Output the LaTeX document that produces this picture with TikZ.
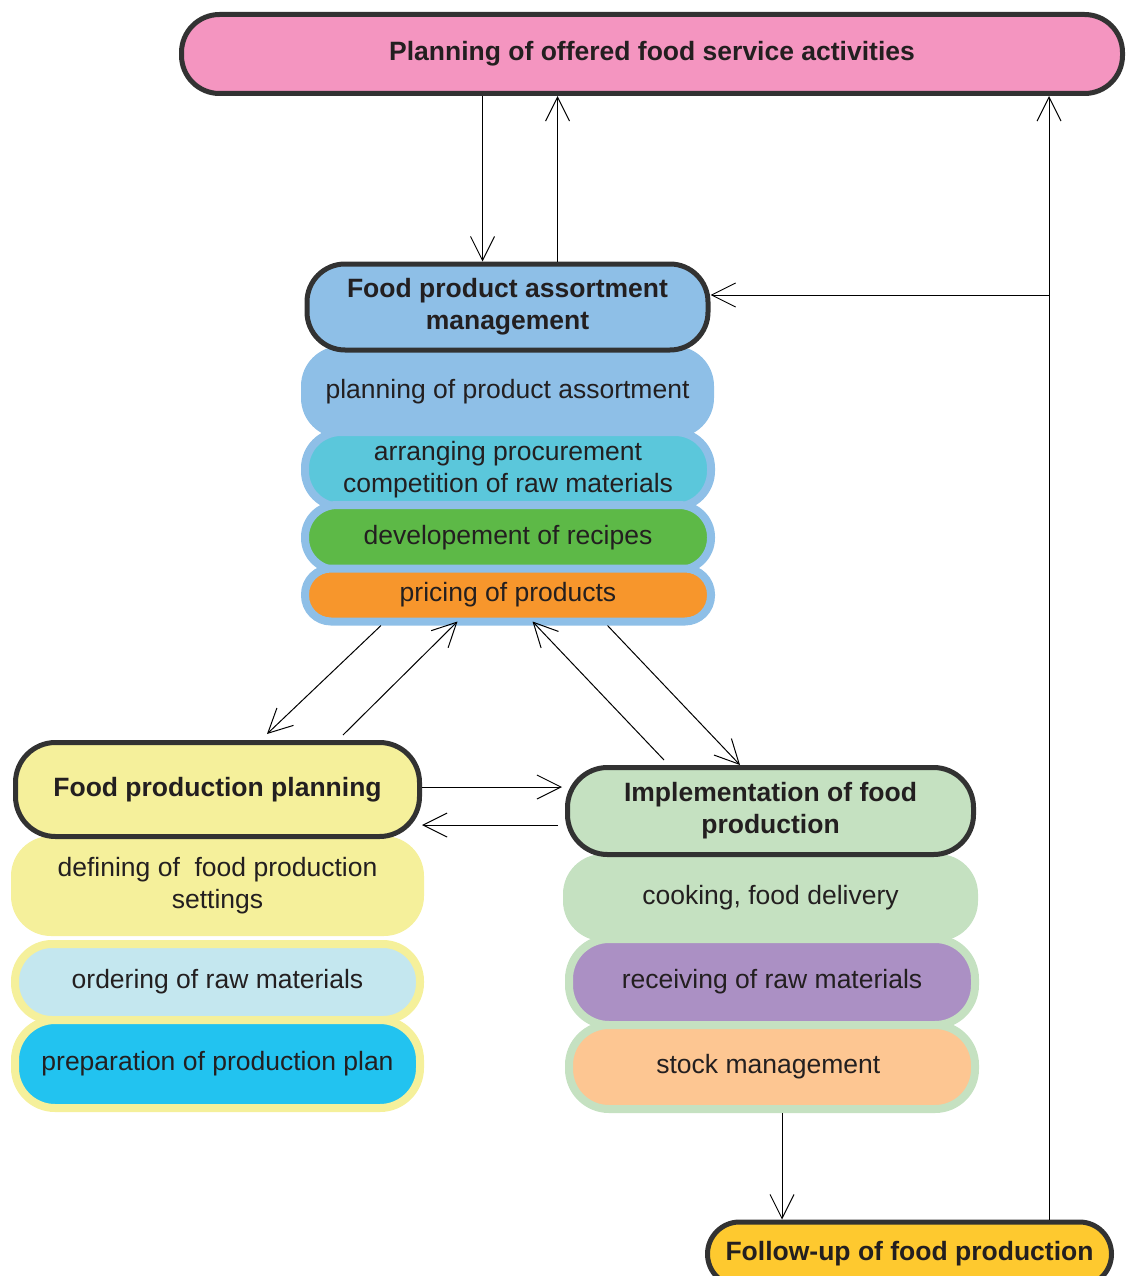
\documentclass[tikz,border=0pt]{standalone}
\usepackage{fontspec}
\setmainfont{Liberation Sans}
\usetikzlibrary{arrows.meta}

\definecolor{edge}{HTML}{323232}
\definecolor{ink}{HTML}{231F20}
\definecolor{rose}{HTML}{F495C0}
\definecolor{sky}{HTML}{8EBFE7}
\definecolor{teal}{HTML}{5BC7DB}
\definecolor{leaf}{HTML}{5DB947}
\definecolor{tangerine}{HTML}{F7962C}
\definecolor{lemon}{HTML}{F5F09B}
\definecolor{ice}{HTML}{C4E7EF}
\definecolor{azure}{HTML}{22C3F0}
\definecolor{mint}{HTML}{C5E1C1}
\definecolor{lilac}{HTML}{AB90C4}
\definecolor{peach}{HTML}{FDC692}
\definecolor{gold}{HTML}{FEC92F}

\begin{document}
\begin{tikzpicture}[x=1pt,y=-1pt,
	every node/.style={text=ink, inner sep=0pt, align=center, font=\fontsize{26.5}{32}\selectfont},
	head/.style={draw=edge, line width=5pt, font=\fontsize{26.5}{32}\selectfont\bfseries},
	arr/.style={-{Straight Barb[length=24pt,width=24pt]}, line width=1pt}]
	\useasboundingbox (0,0) rectangle (1129,1276);
	\clip (0,0) rectangle (1129,1276);
	% activity bands under each heading
	\foreach \name/\x/\y/\w/\h/\r/\fil/\rim/\txt in
	{
		plan/507.5/392/413/92/40/sky/none/{planning of product assortment},
		proc/508/469.5/406/75/36/teal/sky/{arranging procurement\\competition of raw materials},
		recipe/508/537.5/406/65/32/leaf/sky/{developement of recipes},
		price/508/595/406/53/26/tangerine/sky/{pricing of products},
		settings/217.5/886/413/100/40/lemon/none/{defining of~ food production\\settings},
		order/217.5/982/405/76/37/ice/lemon/{ordering of raw materials},
		prodplan/217.5/1064/405/88/40/azure/lemon/{preparation of production plan},
		cook/770.5/897.5/415/87/40/mint/none/{cooking, food delivery},
		receive/772/982/406/86/40/lilac/mint/{receiving of raw materials},
		stock/772/1067/406/84/40/peach/mint/{stock management}
	}
	{
		\node[fill=\fil, draw=\rim, line width=8pt, rounded corners=\r pt,
			minimum width=\w pt, minimum height=\h pt] (\name) at (\x,\y) {\txt};
	}
	% headings
	\node[head, fill=rose, rounded corners=38pt, minimum width=941pt, minimum height=79pt] (top) at (652,54) {Planning of offered food service activities};
	\node[head, fill=sky, rounded corners=38pt, minimum width=401pt, minimum height=86pt] (fpam) at (507.5,307) {Food product assortment\\management};
	\node[head, fill=lemon, rounded corners=40pt, minimum width=404pt, minimum height=94pt] (fpp) at (217.5,789.5) {Food production planning};
	\node[head, fill=mint, rounded corners=40pt, minimum width=406pt, minimum height=87pt] (impl) at (770.5,811) {Implementation of food\\production};
	\node[head, fill=gold, rounded corners=32pt, minimum width=404pt, minimum height=64pt] (follow) at (909.5,1254) {Follow-up of food production};
	% connectors
	\coordinate (d1) at ([xshift=-25pt]fpam.north);
	\coordinate (d2) at ([xshift=50pt]fpam.north);
	\coordinate (up) at ([xshift=139.5pt]follow.north);
	\coordinate (br) at ([yshift=12pt]fpam.east);
	\coordinate (s1) at ([xshift=10pt]stock.south);
	\draw[arr] (d1 |- top.south) -- (d1);
	\draw[arr] (d2) -- (d2 |- top.south);
	\draw[arr] (up) -- (up |- top.south);
	\draw[arr] (up |- br) -- (br);
	\draw[arr] (s1) -- (s1 |- follow.north);
	\draw[arr] ([xshift=-127pt]price.south) -- ([xshift=49.5pt,yshift=6pt]fpp.north);
	\draw[arr] ([xshift=125.5pt,yshift=5pt]fpp.north) -- ([xshift=-50.5pt,yshift=4pt]price.south);
	\draw[arr] ([xshift=-106.5pt,yshift=5pt]impl.north) -- ([xshift=24.5pt,yshift=4pt]price.south);
	\draw[arr] ([xshift=99.5pt]price.south) -- ([xshift=-30.5pt]impl.north);
	\coordinate (h1) at ([yshift=2.5pt]fpp.east);
	\coordinate (h2) at ([yshift=-14pt]impl.west);
	\draw[arr, shorten >=3pt] (h1) -- (h1 -| impl.west);
	\draw[arr, shorten <=7pt] (h2) -- (h2 -| fpp.east);
\end{tikzpicture}
\end{document}
